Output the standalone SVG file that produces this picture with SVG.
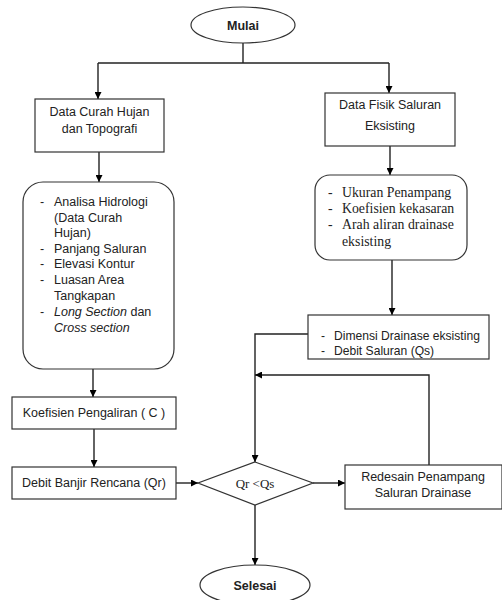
<svg xmlns="http://www.w3.org/2000/svg" width="502" height="600" viewBox="0 0 502 600">
<defs>
<marker id="arr" viewBox="0 0 10 10" refX="10" refY="5" markerWidth="7" markerHeight="7" markerUnits="userSpaceOnUse" orient="auto">
<path d="M0,0 L10,5 L0,10 z" fill="#000"/>
</marker>
</defs>
<style>
.box{fill:#fff;stroke:#333;stroke-width:1.2}
.ln{fill:none;stroke:#222;stroke-width:1.4}
.s{font-family:"Liberation Sans",Arial,sans-serif;font-size:12.5px;fill:#222}
.r{font-family:"Liberation Serif","Times New Roman",serif;font-size:13.8px;fill:#222}
.b{font-weight:bold;font-size:12.5px}
</style>
<rect width="502" height="600" fill="#fff"/>
<g id="connectors">
<path class="ln" d="M243,43 V63"/>
<path class="ln" d="M98,63 H389"/>
<path class="ln" d="M98,63 V99" marker-end="url(#arr)"/>
<path class="ln" d="M389,63 V93" marker-end="url(#arr)"/>
<path class="ln" d="M99,152 V182" marker-end="url(#arr)"/>
<path class="ln" d="M390,146 V175" marker-end="url(#arr)"/>
<path class="ln" d="M392,260 V315" marker-end="url(#arr)"/>
<path class="ln" d="M93,369 V397" marker-end="url(#arr)"/>
<path class="ln" d="M94,429 V467" marker-end="url(#arr)"/>
<path class="ln" d="M176,483 H198" marker-end="url(#arr)"/>
<path class="ln" d="M313,483 H345" marker-end="url(#arr)"/>
<path class="ln" d="M308,334 H255 V462" marker-end="url(#arr)"/>
<path class="ln" d="M429,465 V375 H255" marker-end="url(#arr)"/>
<path class="ln" d="M255,505 V565" marker-end="url(#arr)"/>
</g>
<g id="mulai">
<ellipse class="box" cx="243" cy="25" rx="52" ry="18"/>
<text class="s b" x="243" y="29.5" text-anchor="middle">Mulai</text>
</g>
<g id="data-curah">
<rect class="box" x="35" y="99" width="129" height="53"/>
<text class="s" x="99.5" y="116" text-anchor="middle">Data Curah Hujan</text>
<text class="s" x="99.5" y="133" text-anchor="middle">dan Topografi</text>
</g>
<g id="data-fisik">
<rect class="box" x="325" y="93" width="130" height="53"/>
<text class="s" x="390" y="109" text-anchor="middle">Data Fisik Saluran</text>
<text class="s" x="390" y="130" text-anchor="middle">Eksisting</text>
</g>
<g id="analisa">
<rect class="box" x="23" y="182" width="151" height="187" rx="20"/>
<g class="s">
<text x="40" y="206">-</text><text x="54" y="206">Analisa Hidrologi</text>
<text x="54" y="221.5">(Data Curah</text>
<text x="54" y="237">Hujan)</text>
<text x="40" y="252.5">-</text><text x="54" y="252.5">Panjang Saluran</text>
<text x="40" y="268">-</text><text x="54" y="268">Elevasi Kontur</text>
<text x="40" y="284">-</text><text x="54" y="284">Luasan Area</text>
<text x="54" y="300">Tangkapan</text>
<text x="40" y="316">-</text><text x="54" y="316"><tspan font-style="italic">Long Section</tspan> dan</text>
<text x="54" y="332" font-style="italic">Cross section</text>
</g>
</g>
<g id="ukuran">
<rect class="box" x="315" y="175" width="152" height="85" rx="15"/>
<g class="r">
<text x="328" y="197">-</text><text x="342" y="197">Ukuran Penampang</text>
<text x="328" y="213">-</text><text x="342" y="213">Koefisien kekasaran</text>
<text x="328" y="229">-</text><text x="342" y="229">Arah aliran drainase</text>
<text x="342" y="246">eksisting</text>
</g>
</g>
<g id="dimensi">
<rect class="box" x="308" y="315" width="181" height="44"/>
<g class="s" style="font-size:12.1px">
<text x="321" y="340">-</text><text x="334" y="340">Dimensi Drainase eksisting</text>
<text x="321" y="355">-</text><text x="334" y="355">Debit Saluran (Qs)</text>
</g>
</g>
<g id="koefisien">
<rect class="box" x="12" y="397" width="164" height="32"/>
<text class="s" x="94" y="417" text-anchor="middle">Koefisien Pengaliran ( C )</text>
</g>
<g id="debit-banjir">
<rect class="box" x="12" y="467" width="164" height="32"/>
<text class="s" x="94" y="487" text-anchor="middle">Debit Banjir Rencana (Qr)</text>
</g>
<g id="decision">
<polygon class="box" points="255,462 313,483 255,505 198,483"/>
<text class="r" x="255" y="488" text-anchor="middle" style="font-size:13px">Qr &lt;Qs</text>
</g>
<g id="redesain">
<rect class="box" x="345" y="465" width="157" height="44"/>
<text class="s" x="423" y="481" text-anchor="middle">Redesain Penampang</text>
<text class="s" x="423" y="497" text-anchor="middle">Saluran Drainase</text>
</g>
<g id="selesai">
<ellipse class="box" cx="255" cy="585" rx="55" ry="20"/>
<text class="s b" x="255" y="590" text-anchor="middle">Selesai</text>
</g>
</svg>
